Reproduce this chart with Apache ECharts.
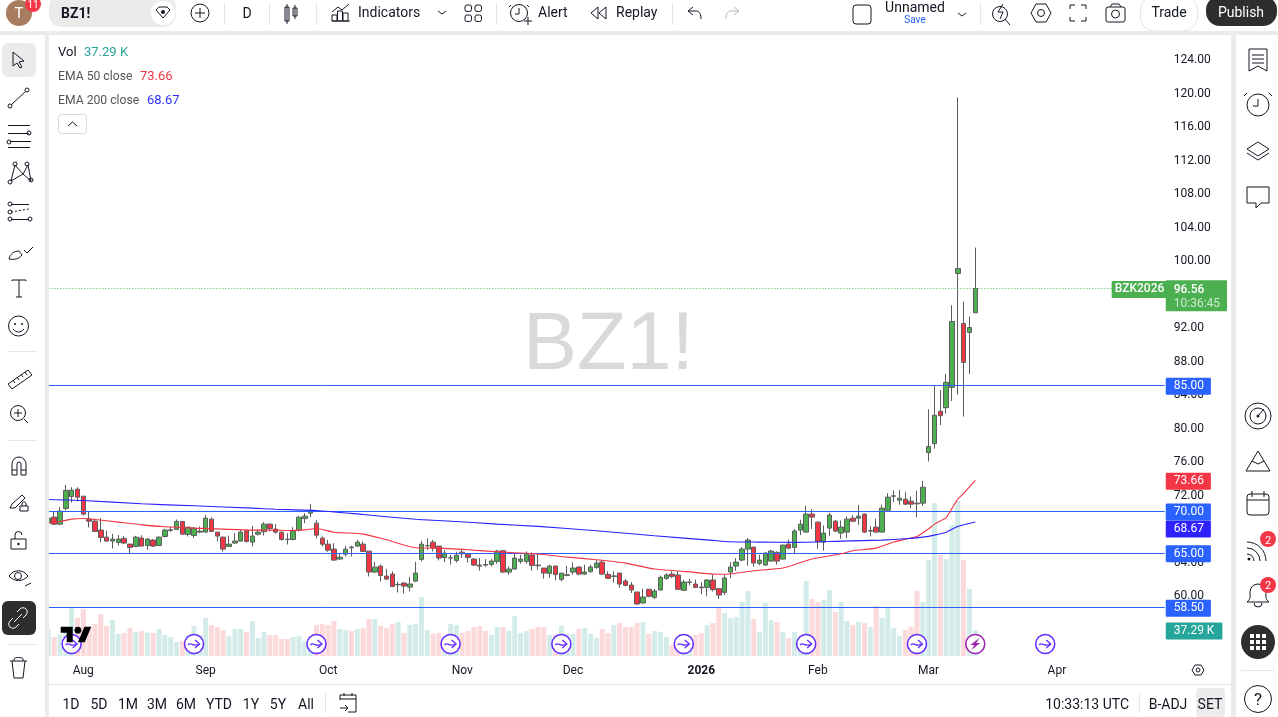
<!DOCTYPE html>
<html>
<head>
<meta charset="utf-8">
<title>BZ1!</title>
<script src="https://cdn.jsdelivr.net/npm/echarts@6/dist/echarts.min.js"></script>
<style>
html,body{margin:0;padding:0;background:#fff;overflow:hidden;}
#container{position:absolute;left:0;top:0;width:1278px;height:717px;}
#chrome{position:absolute;left:0;top:0;pointer-events:none;}
#chrome text{font-family:Roboto,sans-serif;font-size:14px;fill:#131722;}
#chrome .ic{fill:none;stroke:#131722;stroke-width:1;}
</style>
</head>
<body>
<div id="container"></div>
<svg id="chrome" width="1278" height="717" viewBox="0 0 1278 717">
  <!-- panels -->
  <rect x="0" y="0" width="1278" height="31" fill="#fff"/>
  <rect x="0" y="31" width="1278" height="4" fill="#ebebeb"/>
  <rect x="0" y="35" width="45" height="682" fill="#fff"/>
  <rect x="45" y="35" width="4" height="682" fill="#ebebeb"/>
  <rect x="1231" y="35" width="5" height="682" fill="#ebebeb"/>
  <rect x="1236" y="35" width="42" height="682" fill="#fff"/>
  <rect x="49" y="684" width="1182" height="1" fill="#e6e6e6"/>

  <!-- top bar -->
  <circle cx="19" cy="13" r="13" fill="#a87c5f"/>
  <text x="19" y="18" text-anchor="middle" style="fill:#fff;font-size:15px">T</text>
  <circle cx="33" cy="4" r="8" fill="#f23645"/>
  <text x="33" y="8" text-anchor="middle" style="fill:#fff;font-size:10px">11</text>
  <rect x="49" y="-6" width="127" height="33" rx="13" fill="#ebebeb"/>
  <text x="61" y="18" style="font-weight:700">BZ1!</text>
  <circle cx="163" cy="13" r="12" fill="#fff"/>
  <path class="ic" d="M156 10l3-3h8l3 3-7 8z"/><circle cx="163" cy="12" r="2" fill="#131722"/>
  <circle class="ic" cx="200" cy="13" r="9"/><path class="ic" d="M200 8v10M195 13h10"/>
  <path d="M224.500 3v22M269.500 3v22M316.500 3v22M496.500 3v22M672.500 3v22M980.500 3v22" stroke="#e6e6e6" fill="none"/>
  <text x="247" y="18" text-anchor="middle">D</text>
  <path class="ic" d="M289 6v20M287 9h4v14h-4zM297 7v14M295 10h4v8h-4z" transform="translate(-2,-2)"/>
  <path class="ic" d="M332 21v-6h5v6zM337.500 21v-10h5v10zM343 21v-8h5v8zM332 12l6-5 4 3 7-6M332 21h18"/>
  <text x="358" y="17">Indicators</text>
  <path class="ic" d="M438 11l4 3 4-3"/>
  <rect class="ic" x="465" y="5" width="6.500" height="6.500" rx="2"/><rect class="ic" x="475" y="5" width="6.500" height="6.500" rx="2"/>
  <rect class="ic" x="465" y="15" width="6.500" height="6.500" rx="2"/><rect class="ic" x="475" y="15" width="6.500" height="6.500" rx="2"/>
  <circle class="ic" cx="519" cy="13" r="8.500"/><path class="ic" d="M519 8v6h-4M511 5l-2 2M527 5l2 2M524 21h8M528 17v8"/>
  <text x="538" y="17">Alert</text>
  <path class="ic" d="M598 7l-7 6 7 6zM606 7l-7 6 7 6z"/>
  <text x="616" y="17">Replay</text>
  <path class="ic" d="M693 7l-5 4 5 4M688 11h8c4 0 5 4 5 8"/>
  <path class="ic" style="stroke:#b2b5be" d="M734 7l5 4-5 4M739 11h-8c-4 0-5 4-5 8"/>
  <rect class="ic" x="853" y="5" width="18" height="19" rx="3"/>
  <text x="915" y="12" text-anchor="middle">Unnamed</text>
  <text x="915" y="23" text-anchor="middle" style="fill:#2962ff;font-size:10px">Save</text>
  <path class="ic" d="M958 13l4 3 4-3"/>
  <circle class="ic" cx="1000" cy="14" r="7.500"/><path class="ic" d="M1005 19l5 6M1003 4l-5 8h5l-3 7"/>
  <path class="ic" d="M1036 4h10l5 9-5 9h-10l-5-9z"/><circle class="ic" cx="1041" cy="13" r="3.500"/>
  <path class="ic" d="M1070 9v-4h5M1081 5h5v4M1086 17v4h-5M1075 21h-5v-4"/>
  <rect class="ic" x="1106" y="7" width="19" height="15" rx="2"/><circle class="ic" cx="1115.500" cy="14" r="4"/><path class="ic" d="M1110 7l2-3h7l2 3"/>
  <rect x="1140.500" y="-4" width="57" height="35" rx="14" fill="#fff" stroke="#e6e6e6"/>
  <text x="1169" y="17" text-anchor="middle">Trade</text>
  <rect x="1206" y="-4" width="71" height="30" rx="14" fill="#2e2e2e"/>
  <text x="1241" y="17" text-anchor="middle" style="fill:#fff">Publish</text>

  <!-- legend -->
  <text x="58" y="56" style="font-size:13px">Vol</text>
  <text x="84" y="56" style="font-size:13px;fill:#26a69a">37.29 K</text>
  <text x="58" y="80" style="font-size:12.200px;fill:#555">EMA 50 close</text>
  <text x="140" y="80" style="font-size:13px;fill:#f23645">73.66</text>
  <text x="58" y="104" style="font-size:12.200px;fill:#555">EMA 200 close</text>
  <text x="147" y="104" style="font-size:13px;fill:#3030ff">68.67</text>
  <rect x="58.500" y="114.500" width="28" height="19" rx="3" fill="#fff" stroke="#d9d9d9"/>
  <path class="ic" d="M68 126l4.500-4 4.500 4"/>

  <!-- left toolbar -->
  <rect x="2" y="43" width="34" height="34" rx="6" fill="#ebebeb"/>
  <rect x="2" y="601" width="34" height="34" rx="6" fill="#2e2e2e"/>
  <path d="M8 351.500h29M8 440.500h29M8 644.500h29" stroke="#e6e6e6" fill="none"/>
  <path class="ic" d="M13 52v14l4-3 3 5 2-1-3-5 5-1z"/>
  <path class="ic" d="M11 105l15-14"/><circle class="ic" cx="10" cy="106" r="2" fill="#fff"/><circle class="ic" cx="27" cy="90" r="2" fill="#fff"/>
  <path class="ic" d="M8 125.500h22M8 133.500h21M10 141.500h21M8 147.500h22"/><circle class="ic" cx="29" cy="133" r="2"/><circle class="ic" cx="9" cy="142" r="2"/>
  <path class="ic" d="M11 181l4-16 8 9 5-9 3 16-8-7z"/><circle class="ic" cx="10" cy="182" r="2" fill="#fff"/><circle class="ic" cx="15" cy="164" r="2" fill="#fff"/><circle class="ic" cx="27" cy="164" r="2" fill="#fff"/><circle class="ic" cx="31" cy="180" r="2" fill="#fff"/>
  <path class="ic" d="M11 204.500h18M11 219.500h18"/><path d="M11 212l18-3" stroke="#131722" stroke-dasharray="2 2"/><circle class="ic" cx="10" cy="204" r="2" fill="#fff"/><circle class="ic" cx="10" cy="212" r="2" fill="#fff"/><circle class="ic" cx="10" cy="219" r="2" fill="#fff"/><circle class="ic" cx="30" cy="219" r="2" fill="#fff"/>
  <path class="ic" d="M9 259c1-5 5-8 10-8l3 4c-3 4-8 5-13 4zM24 250l3 3 6-6"/>
  <path class="ic" d="M12 281v-1h14v1M19 280v17M16 297h6"/>
  <circle class="ic" cx="18.500" cy="326" r="10"/><circle cx="15" cy="324" r="1" fill="#131722"/><circle cx="22" cy="324" r="1" fill="#131722"/><path class="ic" d="M13 329c3 4 8 4 11 0"/>
  <path class="ic" d="M8 384l20-14 4 5-20 14zM13 380l2 3M17 377l2 3M21 374l2 3M25 372l2 3"/>
  <circle class="ic" cx="18" cy="413" r="7.500"/><path class="ic" d="M18 409v8M14 413h8M24 419l4 4"/>
  <path class="ic" d="M12 475v-11a6.500 6.500 0 0 1 14 0v11h-5v-11a1.500 1.500 0 0 0-4 0v11zM12 470h5M21 470h5"/>
  <path class="ic" d="M10 508l2-4 10-9 3 3-10 10zM20 506v5h8v-5zM22 506v-2c0-3 4-3 4 0v2"/>
  <path class="ic" d="M11 539h15v10h-15zM15 539v-4a3.500 3.500 0 0 1 7 0"/><circle cx="18.500" cy="544" r="1.200" fill="#131722"/>
  <path class="ic" d="M9 576c5-7 14-7 19 0-5 6-14 6-19 0z"/><circle class="ic" cx="18" cy="576" r="3.500"/><path class="ic" d="M25 586l6-3"/>
  <path d="M14 622l8-8M17 612l3-3a4 4 0 0 1 6 6l-3 3M19 624l-3 3a4 4 0 0 1-6-6l3-3" fill="none" stroke="#fff"/>
  <path class="ic" d="M10 661h17M14 661v-2c0-2 9-2 9 0v2M12 661l2 17h9l2-17"/>

  <!-- right toolbar -->
  <path class="ic" d="M1249 49h18v22l-9-5-9 5zM1252 55h12M1252 59h12M1252 63h12"/>
  <circle class="ic" cx="1258" cy="105" r="11"/><path class="ic" d="M1258 99v7h-5M1247 93l-3 3M1269 93l3 3"/>
  <path class="ic" d="M1247 149l11-7 11 7-11 7zM1247 153l11 7 11-7"/>
  <path class="ic" d="M1247 187h22v16h-8l-5 5v-5h-9z"/>
  <circle class="ic" cx="1258" cy="416" r="13"/><circle class="ic" cx="1258" cy="416" r="8"/><circle cx="1258" cy="416" r="1.500" fill="#131722"/><path class="ic" d="M1258 416l6-7"/>
  <path class="ic" d="M1246 471l12-20 12 20zM1252 461l6 3 6-3"/>
  <rect class="ic" x="1247" y="494" width="22" height="21" rx="3"/><path class="ic" d="M1247 500h22M1252 491v6M1264 491v6"/>
  <path class="ic" d="M1247 554a7 7 0 0 1 7 7M1247 548a13 13 0 0 1 13 13M1247 542a19 19 0 0 1 19 19"/><circle cx="1249" cy="559" r="1.500" fill="#131722"/>
  <circle cx="1268" cy="539" r="8" fill="#f23645"/><text x="1268" y="543.500" text-anchor="middle" style="fill:#fff;font-size:11px">2</text>
  <path class="ic" d="M1247 602c4-3 3-6 3-10a8 8 0 0 1 16 0c0 4-1 7 3 10zM1254 603a4 4 0 0 0 8 0"/>
  <circle cx="1268" cy="585" r="8" fill="#f23645"/><text x="1268" y="589" text-anchor="middle" style="fill:#fff;font-size:11px">2</text>
  <circle cx="1258" cy="642" r="17" fill="#2e2e2e"/>
  <g fill="#fff"><rect x="1250" y="634" width="4" height="4"/><rect x="1256" y="634" width="4" height="4"/><rect x="1262" y="634" width="4" height="4"/><rect x="1250" y="640" width="4" height="4"/><rect x="1256" y="640" width="4" height="4"/><rect x="1262" y="640" width="4" height="4"/><rect x="1250" y="646" width="4" height="4"/><rect x="1256" y="646" width="4" height="4"/><rect x="1262" y="646" width="4" height="4"/></g>
  <path d="M1241 670.500h33" stroke="#e6e6e6"/>
  <circle class="ic" cx="1258" cy="699" r="13.500"/>
  <text x="1258" y="705" text-anchor="middle" style="font-size:17px">?</text>

  <!-- tradingview mark -->
  <g transform="translate(60.700,623.300) scale(.86)" fill="#000"><path d="M14 22H7V11H0V4h14v18zM28 22h-8l7.500-18h8L28 22z"/><circle cx="20" cy="8" r="4"/></g>

  <!-- bottom bar -->
  <path class="ic" d="M1192 670l3-5h6l3 5-3 5h-6z"/><circle class="ic" cx="1198" cy="670" r="2"/>
  <text x="71" y="709" text-anchor="middle">1D</text>
  <text x="99" y="709" text-anchor="middle">5D</text>
  <text x="128" y="709" text-anchor="middle">1M</text>
  <text x="157" y="709" text-anchor="middle">3M</text>
  <text x="186" y="709" text-anchor="middle">6M</text>
  <text x="219" y="709" text-anchor="middle">YTD</text>
  <text x="251" y="709" text-anchor="middle">1Y</text>
  <text x="278" y="709" text-anchor="middle">5Y</text>
  <text x="306" y="709" text-anchor="middle">All</text>
  <path d="M325.500 693v20M1139.500 693v20" stroke="#e6e6e6" fill="none"/>
  <path class="ic" d="M340 700v-5h16v17h-8M340 699h16M344 693v3M352 693v3M340 708h7M345 705l3 3-3 3"/>
  <text x="1129" y="709" text-anchor="end">10:33:13 UTC</text>
  <text x="1168" y="709" text-anchor="middle">B-ADJ</text>
  <rect x="1196" y="688" width="29" height="29" rx="4" fill="#ebebeb"/>
  <text x="1210" y="709" text-anchor="middle">SET</text>
</svg>
<script>
// candles from 24 Jul 2025: open, close, low, high
var candles = [
[68.54,69.14,68.46,69.22],[69.26,68.42,68.34,69.93],[68.42,69.97,68.34,70.45],[70.29,72.44,70.05,73.11],[71.72,72.48,71.01,72.83],
[72.6,71.64,71.13,72.83],[71.76,69.62,69.46,71.76],[69.02,68.78,68.03,69.89],[68.78,67.55,67.51,68.94],[67.71,66.83,66.24,69.14],
[66.87,66.4,66.36,67.63],[66.4,66.64,65.52,67.27],[66.24,66.64,65.88,67.15],[66.72,66.16,66.08,67.03],[66.04,65.64,64.97,66.04],
[65.76,66.87,65.68,67.03],[66.76,65.8,65.76,67.11],[65.88,66.64,65.36,66.76],[66.52,65.8,65.68,66.64],[65.88,66.87,65.84,66.95],
[66.95,67.71,66.83,67.87],[67.67,67.75,67.51,68.15],[67.79,68.74,67.75,68.98],[68.74,67.23,67.19,68.74],[67.19,68.07,66.95,68.07],
[67.07,67.95,66.76,68.07],[67.47,67.59,67.35,68.15],[67.47,69.14,67.43,69.54],[69.02,67.55,67.47,69.22],[67.47,67.0,66.36,67.47],
[66.87,65.44,65.17,66.95],[65.76,66.04,65.68,67.07],[66.16,66.4,66.08,67.35],[66.4,67.47,66.36,67.75],[67.63,66.36,66.24,67.67],
[66.28,67.0,65.76,68.23],[67.23,67.47,67.07,67.83],[67.51,68.42,67.07,68.66],[68.42,67.91,67.55,68.54],[67.83,67.47,67.27,68.42],
[67.46,66.59,66.47,67.58],[66.63,66.59,65.99,67.35],[66.59,67.58,66.47,68.06],[67.74,69.25,67.54,69.41],[69.09,69.37,68.54,69.73],
[69.73,70.05,69.25,70.84],[68.54,67.11,66.71,68.93],[66.75,66.03,65.76,66.95],[66.03,65.32,65.12,66.55],[65.44,64.13,64.09,66.15],
[64.25,64.48,64.17,64.96],[64.84,65.44,64.56,65.84],[65.68,65.6,64.56,65.84],[65.8,66.27,65.72,66.55],[66.03,65.16,65.12,66.35],
[65.2,62.7,62.18,65.2],[62.7,63.29,62.58,63.93],[63.41,62.3,61.58,63.61],[62.22,61.86,61.78,63.09],[62.46,60.99,60.91,62.78],
[61.19,61.23,60.27,61.54],[61.39,61.03,60.15,61.5],[60.91,61.27,60.39,62.1],[61.62,62.58,61.5,63.93],[64.21,66.03,63.97,66.43],
[65.84,65.87,65.36,66.75],[66.27,65.56,65.16,66.55],[65.8,64.37,64.09,65.8],[64.44,64.96,63.89,65.36],[64.37,64.4,63.61,64.76],
[64.09,64.72,63.85,65.12],[65.08,64.88,64.4,65.36],[64.84,64.44,63.85,64.96],[64.25,63.53,63.45,64.37],[63.53,63.41,62.86,64.37],
[63.61,63.53,63.33,64.25],[63.61,64.01,63.37,64.29],[63.97,65.2,63.69,65.36],[65.25,62.7,62.58,65.25],[62.7,63.06,62.38,63.38],
[63.06,64.37,62.98,64.97],[63.97,64.25,63.7,64.77],[63.97,64.89,63.7,65.17],[64.73,63.5,62.86,65.05],[63.54,63.46,62.98,64.97],
[63.18,62.58,61.91,63.18],[62.54,63.42,62.03,63.58],[63.42,62.42,61.71,63.42],[61.83,62.58,61.59,62.58],[62.31,62.38,62.19,63.46],
[62.7,63.18,62.38,63.85],[63.3,62.46,62.31,63.38],[62.46,62.7,62.38,63.58],[62.74,63.3,62.66,63.58],[63.26,63.77,63.1,64.17],
[63.89,62.46,62.38,64.17],[62.42,61.95,61.91,62.78],[62.19,62.23,61.43,62.78],[62.58,61.27,60.83,62.58],[61.63,61.11,60.99,61.87],
[61.15,60.56,60.2,61.51],[60.32,58.89,58.81,60.32],[59.01,59.72,58.93,60.72],[60.64,59.8,59.68,60.68],[59.68,60.44,59.48,60.68],
[60.56,62.07,60.52,62.27],[61.95,62.35,61.79,62.58],[62.46,62.19,61.99,62.78],[62.35,60.64,60.6,62.78],[60.52,61.51,60.48,61.79],
[61.47,61.51,61.11,61.91],[61.27,60.87,60.79,61.79],[60.91,60.83,60.04,61.47],[60.87,61.75,59.8,61.87],[61.75,60.6,60.4,62.38],
[60.72,59.96,59.48,60.79],[60.28,61.99,59.96,62.38],[62.7,63.3,61.95,63.89],[63.42,63.89,62.86,64.37],[64.13,65.44,63.97,65.68],
[65.44,66.52,63.46,66.76],[65.68,63.78,63.34,65.68],[63.74,64.13,63.5,64.77],[63.54,64.97,63.46,65.05],[64.01,65.21,63.93,65.36],
[65.05,64.01,63.58,65.17],[64.25,65.92,64.17,65.96],[66.04,65.56,65.4,66.56],[65.64,67.59,64.97,67.83],[67.71,68.42,67.11,68.94],
[67.47,69.62,67.43,70.61],[69.62,69.26,67.83,70.21],[68.66,66.32,65.48,68.74],[66.28,67.35,65.25,68.27],[67.95,69.5,67.03,69.74],
[68.78,67.59,67.47,68.94],[67.35,68.07,66.68,68.86],[67.47,69.02,66.76,69.34],[69.14,68.78,68.66,69.5],[69.14,69.38,68.34,70.73],
[69.62,67.47,67.35,69.7],[67.59,67.67,66.95,68.15],[68.07,67.47,67.39,69.06],[67.47,70.33,67.43,70.73],[70.09,71.64,70.01,72.12],
[71.76,71.8,71.05,72.44],[71.28,71.52,70.73,72.52],[71.4,70.81,70.69,72.24],[71.17,70.81,70.33,71.72],[70.93,70.85,69.26,72.4],
[70.93,72.83,70.61,73.59],[76.96,77.68,75.89,82.13],[78.04,81.41,77.44,84.99],[81.89,81.37,80.26,84.43],[82.33,85.35,81.61,86.34],
[84.75,92.62,83.12,94.56],[98.34,98.93,83.88,119.36],[92.38,87.73,81.25,95.0],[91.31,91.9,86.34,93.21],[93.65,96.56,93.65,101.44]
];
// thousands of lots
var volumes = [
38.7,27.2,31.1,39.7,68.8,54.5,67.4,42,45.9,60.2,43,51.6,31.5,33,40.2,34.4,35.9,33.9,33,38.7,
30.1,27.2,20.1,21.5,30.1,43,30,54.5,44.5,41.6,37.3,28.7,38.7,38.7,34.4,50.2,25.8,34.4,30.1,30.1,
24.4,24.4,27.2,28.7,21.5,24,44.5,45.9,44.5,50.2,38.7,37.3,35.9,38.7,40.2,53,53,43,40.2,45.9,
48.8,33,44.5,45.9,84.6,37.3,31.5,33,28,45.9,44.5,33,35.9,41.6,43,35.9,30.1,41.6,41.6,35.9,
57.4,33,35.9,38.7,41.6,41.6,30.1,30,43,31.5,31.5,38.7,40.2,31.5,25.8,38.7,33,44.5,47.3,41.6,
41.6,47.3,48.8,31.5,35.9,34.4,27.2,15.8,23,25,28.7,30.1,33,44.5,47.3,69.8,61.7,54.5,55.9,77.4,
93.2,53,34.4,76,51.6,48.8,34.4,25.8,34.4,28,107.6,81.7,77.4,80.3,94.6,63.1,77.4,50.2,44.5,48.8,
47.3,41.6,71.7,54.5,68.8,40.2,28.7,37.3,42,93.2,77.4,137.7,219.4,144.8,139.1,187.9,222.3,137.7,96.1,37.29
];
// ema lines read at some bars only: [bar, value]
var ema50 = [[0,68.62],[2,68.74],[4,69.02],[6,69.1],[8,68.98],[12,68.66],[16,68.34],[20,68.11],[25,67.95],[30,67.83],[35,67.71],[39,67.71],
[41,67.66],[44,67.74],[46,67.9],[49,67.46],[54,67.23],[58,66.55],[63,65.6],[67,65.56],[72,65.36],[76,65.17],[80,65.01],[84,64.85],[89,64.49],
[94,64.17],[99,63.77],[104,63.06],[109,62.78],[114,62.46],[116,62.44],[121,62.86],[126,63.18],[131,64.25],[136,64.89],[138,65.25],[142,65.56],
[145,66.28],[147,66.63],[149,66.95],[151,67.86],[152,68.42],[154,69.21],[155,70.3],[156,71.4],[157,72.11],[159,73.66]];
var ema200 = [[0,71.36],[6,71.24],[16,70.85],[25,70.61],[35,70.33],[39,70.2],[46,70.05],[54,69.57],[63,69.01],[70,68.74],[77,68.43],[84,68.15],
[94,67.63],[104,67.03],[114,66.48],[117,66.32],[122,66.28],[128,66.24],[136,66.4],[143,66.52],[147,66.67],[150,66.87],[152,67.11],[154,67.46],[156,68.14],[159,68.67]];
var levels = [85,70,65,58.5];
var lastPrice = 96.56;
var lastEma50 = 73.66;
var lastEma200 = 68.67;
var lastVolume = 37.29;
var rollBars = [4,25,46,69,88,109,130,149,171];
var flashBars = [159];
var monthBars = [6,27,48,71,90,112,132,151,173];
var monthNames = ['Aug','Sep','Oct','Nov','Dec','2026','Feb','Mar','Apr'];
var holidays = ['2025-09-01','2025-11-27','2025-12-25','2026-01-01','2026-01-19','2026-02-16'];

var BAR_COUNT = 192;
var UP = '#4caf50', DOWN = '#f23645', WICK = '#5d5d5d';

var categories = [];
var t = Date.UTC(2025,6,24);
while(categories.length < BAR_COUNT){
    var d = new Date(t);
    var s = d.toISOString().slice(0,10);
    if(d.getUTCDay() != 0 && d.getUTCDay() != 6 && holidays.indexOf(s) < 0){
        categories.push(s);
    }
    t += 86400000;
}

var volumeData = [];
for(var i=0;i<volumes.length;i++){
    var up = candles[i][1] >= candles[i][0];
    volumeData.push({value:volumes[i], itemStyle:{color: up ? '#d3ece9' : '#fcd9db'}});
}

function priceTag(value, color, text, hideLine, shift){
    return {
        yAxis: value,
        lineStyle: {color: hideLine ? 'transparent' : color, width: 1, type: 'solid'},
        label: {
            show: true, position: 'end', distance: 1, offset: [0, shift], formatter: text,
            backgroundColor: color, color: '#fff', padding: [4,7,1,8], borderRadius: 1,
            fontFamily: 'Roboto', fontSize: 12
        }
    };
}

var tagLines = [];
tagLines.push(priceTag(lastEma50, '#f23645', lastEma50.toFixed(2), true, 1));
tagLines.push(priceTag(lastEma200, '#3022ff', lastEma200.toFixed(2), true, 7));
levels.forEach(function(v){ tagLines.push(priceTag(v, '#2962ff', v.toFixed(2), false, 1)); });
tagLines.push({
    yAxis: lastPrice,
    lineStyle: {color: UP, width: 1, type: [1,2]},
    label: {
        show: true, position: 'end', distance: 1, offset: [0,7.2],
        formatter: '{a|' + lastPrice.toFixed(2) + '}\n{b|10:36:45}',
        backgroundColor: UP, padding: [3,7,0,8], borderRadius: 1,
        rich: {
            a: {color:'#fff', fontFamily:'Roboto', fontSize:12, fontWeight:500, lineHeight:14},
            b: {color:'#cdeacf', fontFamily:'Roboto', fontSize:12, lineHeight:14}
        }
    }
});

function drawMarker(params, api){
    var p = api.coord([api.value(0), 17.2]);
    var c = '#6730ff';
    return {type:'group', children:[
        {type:'circle', shape:{cx:p[0], cy:p[1], r:9.5}, style:{fill:'#fff', stroke:c, lineWidth:1.6}},
        {type:'bezierCurve', shape:{x1:p[0]-6, y1:p[1]+1, x2:p[0]+5, y2:p[1], cpx1:p[0]-3, cpy1:p[1]-3, cpx2:p[0]-1, cpy2:p[1]+4}, style:{fill:null, stroke:c, lineWidth:1.4}},
        {type:'polyline', shape:{points:[[p[0]+1,p[1]-4],[p[0]+5.5,p[1]],[p[0]+1,p[1]+4]]}, style:{fill:null, stroke:c, lineWidth:1.4}}
    ]};
}
function drawFlash(params, api){
    var p = api.coord([api.value(0), 17.2]);
    var c = '#9c27b0';
    return {type:'group', children:[
        {type:'circle', shape:{cx:p[0], cy:p[1], r:9.5}, style:{fill:'#fff', stroke:c, lineWidth:1.6}},
        {type:'polygon', shape:{points:[[p[0]+4,p[1]-6],[p[0]-5,p[1]+1],[p[0]-1,p[1]+1],[p[0]-4,p[1]+6],[p[0]+5,p[1]-1],[p[0]+1,p[1]-1]]}, style:{fill:c}}
    ]};
}

var dom = document.getElementById('container');
var myChart = echarts.init(dom);
var option = {
    animation: false,
    backgroundColor: '#fff',
    graphic: [{
        type: 'text', z: 0, silent: true, left: 523, top: 306,
        style: {text:'BZ1!', fontFamily:'Liberation Sans', fontSize:81, fill:'#d9d9d9'}
    }],
    grid: [
        {left: 45.385, width: 1119.36, top: 25.1, height: 636.6},
        {left: 45.385, width: 1119.36, top: 456, height: 200}
    ],
    xAxis: [
        {type:'category', gridIndex:0, data:categories, boundaryGap:true, axisLine:{show:false}, axisTick:{show:false}, axisLabel:{show:false}, splitLine:{show:false}},
        {
            type:'category', gridIndex:1, data:categories, boundaryGap:true,
            axisLine:{show:false}, axisTick:{show:false}, splitLine:{show:false},
            axisLabel:{
                margin: 9, color:'#131722', fontFamily:'Roboto', fontSize:12,
                interval: function(i){ return monthBars.indexOf(i) >= 0; },
                formatter: function(v, i){
                    var name = monthNames[monthBars.indexOf(i)];
                    return name == '2026' ? '{y|2026}' : name;
                },
                rich: {y:{fontWeight:'bold', fontFamily:'Roboto', fontSize:12, color:'#131722'}}
            }
        }
    ],
    yAxis: [
        {
            type:'value', gridIndex:0, position:'right', min:52, max:128, interval:4, scale:true,
            axisLine:{show:false}, axisTick:{show:false}, splitLine:{show:false},
            axisLabel:{
                margin:9, showMinLabel:false, showMaxLabel:false,
                formatter:function(v){ return '{p|' + v.toFixed(2) + '}'; },
                rich:{p:{color:'#131722', fontFamily:'Roboto', fontSize:12, padding:[3,0,0,0]}}
            }
        },
        {type:'value', gridIndex:1, min:0, max:286.8, show:false}
    ],
    series: [
        {
            name:'Vol', type:'bar', xAxisIndex:1, yAxisIndex:1, barWidth:5, z:1, silent:true,
            data: volumeData,
            markLine:{
                silent:true, symbol:'none', animation:false,
                data:[{
                    yAxis:lastVolume, lineStyle:{color:'transparent'},
                    label:{show:true, position:'end', distance:1, offset:[0,1], formatter:'37.29 K', backgroundColor:'#26a69a', color:'#fff', padding:[4,8,1,8], borderRadius:1, fontFamily:'Roboto', fontSize:12}
                }]
            }
        },
        {
            name:'BZ1!', type:'candlestick', xAxisIndex:0, yAxisIndex:0, barWidth:5, z:4, silent:true,
            itemStyle:{color:UP, color0:DOWN, borderColor:WICK, borderColor0:WICK, borderWidth:1},
            data: candles,
            markLine:{silent:true, symbol:'none', animation:false, data:tagLines},
            markPoint:{
                silent:true, animation:false,
                data:[{
                    coord:[categories[BAR_COUNT-1], lastPrice], symbol:'rect', symbolSize:1, itemStyle:{color:'transparent'},
                    label:{show:true, position:'left', distance:0, offset:[6,1], formatter:'BZK2026', backgroundColor:UP, color:'#fff', padding:[4,3,1,3], borderRadius:1, fontFamily:'Roboto', fontSize:12, fontWeight:500}
                }]
            }
        },
        {
            name:'EMA 50', type:'line', xAxisIndex:0, yAxisIndex:0, z:5, silent:true, showSymbol:false, smooth:0.2,
            lineStyle:{color:'#f23645', width:1.1}, data: ema50
        },
        {
            name:'EMA 200', type:'line', xAxisIndex:0, yAxisIndex:0, z:5, silent:true, showSymbol:false, smooth:0.2,
            lineStyle:{color:'#2a22ff', width:1.1}, data: ema200
        },
        {
            name:'Rolls', type:'custom', xAxisIndex:1, yAxisIndex:1, z:6, silent:true, clip:false,
            renderItem: drawMarker, data: rollBars.map(function(b){ return [b]; }), encode:{x:0}
        },
        {
            name:'Flash', type:'custom', xAxisIndex:1, yAxisIndex:1, z:6, silent:true, clip:false,
            renderItem: drawFlash, data: flashBars.map(function(b){ return [b]; }), encode:{x:0}
        }
    ]
};
myChart.setOption(option);
</script>
</body>
</html>
